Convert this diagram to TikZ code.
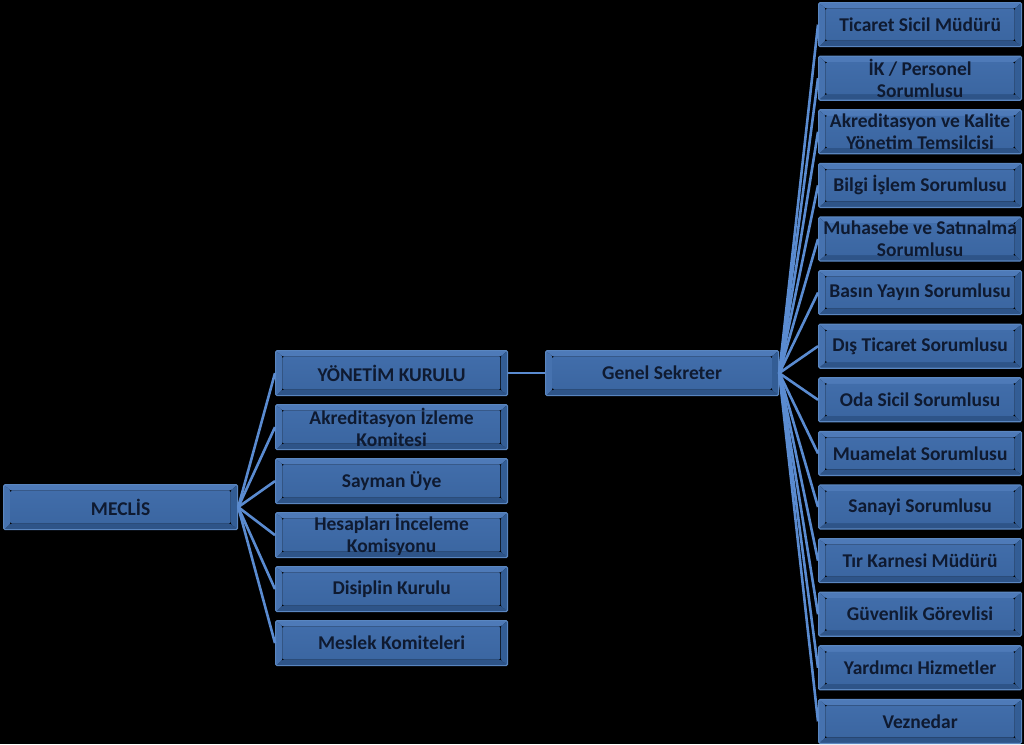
\documentclass[tikz,border=0pt]{standalone}
\usepackage{fontspec}
\setmainfont{Carlito}
\definecolor{bxedge}{HTML}{5A86C0}
\definecolor{bxtop}{HTML}{4E7AB8}
\definecolor{bxbot}{HTML}{2E5488}
\definecolor{bxleft}{HTML}{4672AF}
\definecolor{bxright}{HTML}{335D95}
\definecolor{bxin1}{HTML}{416DAA}
\definecolor{bxin2}{HTML}{3B66A1}
\definecolor{txt}{HTML}{0F1A30}
\definecolor{conn}{HTML}{5A8BD0}
\tikzset{
  box/.style={draw=bxedge, line width=1.2pt, rounded corners=1.5pt,
    minimum height=#1, anchor=north west, inner sep=0pt,
    font=\fontsize{19.5}{22}\selectfont\bfseries, text=txt, align=center,
    path picture={
      \fill[bxtop] (path picture bounding box.north west) -- (path picture bounding box.north east) -- ([shift={(-7pt,-6pt)}]path picture bounding box.north east) -- ([shift={(7pt,-6pt)}]path picture bounding box.north west) -- cycle;
      \fill[bxbot] (path picture bounding box.south west) -- (path picture bounding box.south east) -- ([shift={(-7pt,6pt)}]path picture bounding box.south east) -- ([shift={(7pt,6pt)}]path picture bounding box.south west) -- cycle;
      \fill[bxleft] (path picture bounding box.north west) -- ([shift={(7pt,-6pt)}]path picture bounding box.north west) -- ([shift={(7pt,6pt)}]path picture bounding box.south west) -- (path picture bounding box.south west) -- cycle;
      \fill[bxright] (path picture bounding box.north east) -- ([shift={(-7pt,-6pt)}]path picture bounding box.north east) -- ([shift={(-7pt,6pt)}]path picture bounding box.south east) -- (path picture bounding box.south east) -- cycle;
      \shade[top color=bxin1, bottom color=bxin2] ([shift={(7pt,-6pt)}]path picture bounding box.north west) rectangle ([shift={(-7pt,6pt)}]path picture bounding box.south east);
    }},
  link/.style={draw=conn, line width=2.6pt},
}
\begin{document}
\begin{tikzpicture}[x=1pt,y=-1pt]
\fill[black] (0,0) rectangle (1024,744);
\useasboundingbox (0,0) rectangle (1024,744);
% root
\node[box=45pt, minimum width=234pt] (M) at (3,484) {MECLİS};
% left column
\node[box=45pt, minimum width=232pt] (L1) at (275,350) {YÖNETİM KURULU};
\node[box=45pt, minimum width=232pt] (L2) at (275,404) {Akreditasyon İzleme\\Komitesi};
\node[box=45pt, minimum width=232pt] (L3) at (275,458) {Sayman Üye};
\node[box=45pt, minimum width=232pt] (L4) at (275,512) {Hesapları İnceleme\\Komisyonu};
\node[box=45pt, minimum width=232pt] (L5) at (275,566) {Disiplin Kurulu};
\node[box=45pt, minimum width=232pt] (L6) at (275,620) {Meslek Komiteleri};
% genel sekreter
\node[box=45pt, minimum width=233pt] (G) at (545,350) {Genel Sekreter};
% right column
\node[box=44pt, minimum width=203pt] (R1) at (818,2) {Ticaret Sicil Müdürü};
\node[box=44pt, minimum width=203pt] (R2) at (818,55.6) {İK / Personel\\Sorumlusu};
\node[box=44pt, minimum width=203pt] (R3) at (818,109.2) {Akreditasyon ve Kalite\\Yönetim Temsilcisi};
\node[box=44pt, minimum width=203pt] (R4) at (818,162.8) {Bilgi İşlem Sorumlusu};
\node[box=44pt, minimum width=203pt] (R5) at (818,216.4) {Muhasebe ve Satınalma\\Sorumlusu};
\node[box=44pt, minimum width=203pt] (R6) at (818,270) {Basın Yayın Sorumlusu};
\node[box=44pt, minimum width=203pt] (R7) at (818,323.6) {Dış Ticaret Sorumlusu};
\node[box=44pt, minimum width=203pt] (R8) at (818,377.2) {Oda Sicil Sorumlusu};
\node[box=44pt, minimum width=203pt] (R9) at (818,430.8) {Muamelat Sorumlusu};
\node[box=44pt, minimum width=203pt] (R10) at (818,484.4) {Sanayi Sorumlusu};
\node[box=44pt, minimum width=203pt] (R11) at (818,538) {Tır Karnesi Müdürü};
\node[box=44pt, minimum width=203pt] (R12) at (818,591.6) {Güvenlik Görevlisi};
\node[box=44pt, minimum width=203pt] (R13) at (818,645.2) {Yardımcı Hizmetler};
\node[box=44pt, minimum width=203pt] (R14) at (818,698.8) {Veznedar};
% connectors
\foreach \i in {1,...,6} \draw[link] (M.east) -- (L\i.west);
\draw[link] (L1.east) -- (G.west);
\foreach \i in {1,...,14} \draw[link] (G.east) -- (R\i.west);
\end{tikzpicture}
\end{document}
